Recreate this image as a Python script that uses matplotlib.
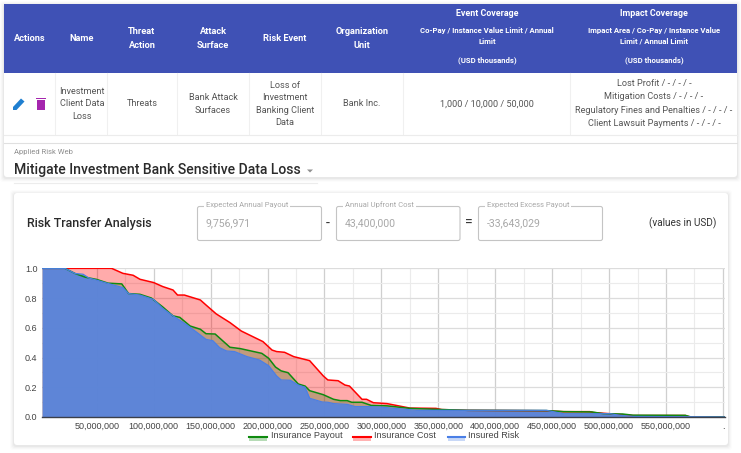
#!/usr/bin/env python3
"""Risk transfer analysis screen: coverage table, summary fields and area chart."""
import matplotlib
matplotlib.use("Agg")
import matplotlib.pyplot as plt
from matplotlib.patches import FancyBboxPatch, Polygon, Rectangle
from matplotlib.lines import Line2D
from matplotlib.ticker import FuncFormatter, MultipleLocator

# curves: x in USD millions, y = probability of exceeding x
risk_x = [2, 22, 31, 38, 43, 50, 59, 73, 78, 88, 100, 108, 117, 129, 139, 146, 152, 158, 164,
          171, 182, 193, 201, 208, 212, 220, 227, 233, 237, 248, 253, 258, 270, 277, 287, 299,
          309, 331, 445, 460, 501, 510, 521, 602]
risk_y = [1.0, 1.0, 0.965, 0.96, 0.935, 0.92, 0.90, 0.87, 0.83, 0.82, 0.79, 0.73, 0.68, 0.62,
          0.563, 0.522, 0.513, 0.466, 0.444, 0.44, 0.406, 0.383, 0.345, 0.276, 0.249, 0.247,
          0.215, 0.20, 0.126, 0.101, 0.099, 0.09, 0.085, 0.07, 0.07, 0.067, 0.06, 0.045, 0.045,
          0.022, 0.022, 0.011, 0.004, 0.0]
payout_x = [2, 22, 31, 40, 50, 60, 72, 78, 88, 98, 108, 117, 123, 132, 141, 146, 154, 167, 176,
            195, 201, 207, 212, 218, 227, 233, 237, 249, 258, 264, 270, 274, 283, 291, 305, 325,
            353, 376, 445, 460, 485, 495, 512, 521, 567, 572, 602]
payout_y = [1.0, 1.0, 0.965, 0.94, 0.925, 0.90, 0.895, 0.83, 0.825, 0.80, 0.74, 0.68, 0.67,
            0.612, 0.59, 0.56, 0.558, 0.469, 0.46, 0.428, 0.395, 0.336, 0.31, 0.298, 0.222,
            0.208, 0.177, 0.15, 0.119, 0.11, 0.11, 0.099, 0.099, 0.078, 0.075, 0.058, 0.05,
            0.045, 0.043, 0.036, 0.034, 0.022, 0.02, 0.012, 0.011, 0.0, 0.0]
cost_x = [2, 63, 73, 82, 88, 100, 108, 117, 121, 127, 141, 146, 155, 167, 177, 196, 204, 208,
          215, 223, 237, 249, 253, 262, 268, 272, 283, 287, 293, 305, 325, 348, 353, 376, 445,
          460, 483, 486, 501, 521, 567, 571, 602]
cost_y = [1.0, 1.0, 0.966, 0.953, 0.926, 0.904, 0.877, 0.854, 0.82, 0.82, 0.787, 0.753, 0.693,
          0.635, 0.578, 0.507, 0.45, 0.44, 0.435, 0.406, 0.379, 0.276, 0.249, 0.244, 0.215,
          0.208, 0.119, 0.119, 0.096, 0.09, 0.06, 0.058, 0.05, 0.045, 0.042, 0.036, 0.036,
          0.03, 0.022, 0.01, 0.01, 0.0, 0.0]

series_names = ["Insurance Payout", "Insurance Cost", "Insured Risk"]
x_tick_values = [50, 100, 150, 200, 250, 300, 350, 400, 450, 500, 550, 600]
y_tick_values = [0.0, 0.2, 0.4, 0.6, 0.8, 1.0]

header_labels = ["Actions", "Name", "Threat\nAction", "Attack\nSurface", "Risk Event",
                 "Organization\nUnit"]
row_labels = ["Investment\nClient Data\nLoss", "Threats", "Bank Attack\nSurfaces",
              "Loss of\nInvestment\nBanking Client\nData", "Bank Inc.",
              "1,000 / 10,000 / 50,000"]
impact_lines = ["Lost Profit / - / - / -", "Mitigation Costs / - / - / -",
                "Regulatory Fines and Penalties / - / - / -", "Client Lawsuit Payments / - / - / -"]
field_labels = ["Expected Annual Payout", "Annual Upfront Cost", "Expected Excess Payout"]
field_values = ["9,756,971", "43,400,000", "-33,643,029"]

GREEN, RED, BLUE = "#0f8a0f", "#ff0000", "#5a85dc"
CHART_FONT = "Liberation Sans"
W, H = 741, 453


def fs(px):
    return px * 0.72


plt.rcParams["font.family"] = ["Roboto", "DejaVu Sans"]
fig = plt.figure(figsize=(W / 100, H / 100), dpi=100, facecolor="white")

page = fig.add_axes([0, 0, 1, 1])
page.set_xlim(0, W)
page.set_ylim(H, 0)
page.axis("off")


def card(x0, y0, x1, y1):
    # soft shadow made of stacked rounded boxes
    for grow, a in [(4, 0.012), (3, 0.018), (2, 0.025), (1, 0.035)]:
        page.add_patch(FancyBboxPatch((x0 - grow, y0 - grow + 1), x1 - x0 + 2 * grow,
                                      y1 - y0 + 2 * grow, boxstyle="round,pad=0,rounding_size=3",
                                      fc="black", ec="none", alpha=a))
    page.add_patch(FancyBboxPatch((x0, y0), x1 - x0, y1 - y0,
                                  boxstyle="round,pad=0,rounding_size=3", fc="white", ec="none"))


# top card with the table
card(4, 4, 737, 177)
page.add_patch(Rectangle((4, 4), 733, 69, fc="#3f51b5", ec="none"))
header_x = [30, 82, 142, 213, 285, 362]
for x, label in zip(header_x, header_labels):
    page.text(x, 38.5, label, color="white", fontsize=fs(9.25), fontweight="bold", ha="center",
              va="center", linespacing=1.85)
for x, top, sub in [(487, "Event Coverage", "Co-Pay / Instance Value Limit / Annual\nLimit"),
                    (654, "Impact Coverage", "Impact Area / Co-Pay / Instance Value\nLimit / Annual Limit")]:
    page.text(x, 14, top, color="white", fontsize=fs(8.9), fontweight="bold", ha="center", va="center")
    page.text(x, 36, sub, color="white", fontsize=fs(7.8), fontweight="bold", ha="center",
              va="center", linespacing=1.6)
    page.text(x, 60, "(USD thousands)", color="white", fontsize=fs(7.8), fontweight="bold",
              ha="center", va="center")

for x in [55, 107, 177, 249, 321, 403, 570]:
    page.plot([x, x], [73, 134], color="#f0f0f0", lw=0.8)
page.plot([4, 737], [134.5, 134.5], color="#ececec", lw=0.8)
page.plot([4, 737], [142.5, 142.5], color="#e0e0e0", lw=0.8)

row_x = [82, 142, 213, 285, 362, 487]
for x, label in zip(row_x, row_labels):
    page.text(x, 104, label, color="#555555", fontsize=fs(9.1), ha="center", va="center",
              linespacing=1.46)
for i, line in enumerate(impact_lines):
    page.text(654, 83.5 + i * 13.3, line, color="#555555", fontsize=fs(9.1), ha="center", va="center")

# edit and delete icons
page.add_patch(Polygon([(13, 110), (13, 107), (21, 98.5), (24.5, 101.5), (16.5, 110)],
                       fc="#1f7fd0", ec="none"))
page.add_patch(Rectangle((36.5, 100), 8, 9.5, fc="#a526ae", ec="none"))
page.add_patch(Rectangle((35.5, 98), 10, 1.4, fc="#a526ae", ec="none"))

page.text(14, 152, "Applied Risk Web", color="#8f8f8f", fontsize=fs(7.6), ha="left", va="center")
page.text(14, 170, "Mitigate Investment Bank Sensitive Data Loss", color="#2b2b2b",
          fontsize=fs(14.05), fontweight="medium", ha="left", va="center")
page.add_patch(Polygon([(307, 169.5), (313, 169.5), (310, 172.5)], fc="#909090", ec="none"))
page.plot([14, 317], [183, 183], color="#ececec", lw=0.8)

# analysis card
card(14, 193, 728, 445)
page.text(27, 223, "Risk Transfer Analysis", color="#2b2b2b", fontsize=fs(12.5), fontweight="medium",
          ha="left", va="center")
page.text(716, 223, "(values in USD)", color="#333333", fontsize=fs(10), ha="right", va="center")
for (x0, x1), label, value in zip([(197.5, 321.5), (336.5, 460), (478.5, 602.5)], field_labels, field_values):
    page.add_patch(FancyBboxPatch((x0, 206.5), x1 - x0, 34, boxstyle="round,pad=0,rounding_size=2",
                                  fc="white", ec="#c4c4c4", lw=0.8))
    page.text(x0 + 8.5, 205, label, color="#a8a8a8", fontsize=fs(7.6), ha="left", va="center",
              bbox=dict(fc="white", ec="none", pad=1.2))
    page.text(x0 + 8.5, 223.5, value, color="#a8a8a8", fontsize=fs(10.5), ha="left", va="center")
page.text(328, 224, "-", color="#333333", fontsize=fs(14), ha="center", va="center")
page.text(469, 223, "=", color="#333333", fontsize=fs(14), ha="center", va="center")

# chart
ax = fig.add_axes([42.3 / W, 1 - 417 / H, (725 - 42.3) / W, (417 - 268.3) / H])
ax.patch.set_alpha(0)
ax.set_xlim(2.2, 601.8)
ax.set_ylim(0, 1)
ax.fill_between(cost_x, cost_y, color=RED, alpha=0.33, lw=0)
ax.fill_between(payout_x, payout_y, color="#377814", alpha=0.3, lw=0)
ax.fill_between(risk_x, risk_y, color=BLUE, alpha=0.96, lw=0)
ax.plot(cost_x, cost_y, color=RED, lw=1.1, solid_joinstyle="round")
ax.plot(payout_x, payout_y, color=GREEN, lw=1.1, solid_joinstyle="round")
ax.plot(risk_x, risk_y, color="#4a7fe6", lw=0.9, solid_joinstyle="round")

ax.set_xticks(x_tick_values)
ax.set_xticklabels([f"{v * 1000000:,}" if v < 600 else "." for v in x_tick_values])
ax.set_yticks(y_tick_values)
ax.yaxis.set_major_formatter(FuncFormatter(lambda v, _: f"{v:.1f}"))
ax.xaxis.set_minor_locator(MultipleLocator(25))
ax.yaxis.set_minor_locator(MultipleLocator(0.1))
ax.grid(which="major", axis="x", color="#cfcfcf", lw=0.9)
ax.grid(which="major", axis="y", color="#dcdcdc", lw=0.9)
ax.grid(which="minor", color="#ebebeb", lw=0.8)
ax.set_axisbelow(True)
ax.tick_params(which="both", length=0)
ax.tick_params(axis="both", labelsize=fs(9), labelcolor="#444444", pad=3.5)
for tick in ax.get_xticklabels() + ax.get_yticklabels():
    tick.set_family(CHART_FONT)
for side in ["top", "left", "right"]:
    ax.spines[side].set_visible(False)
ax.spines["bottom"].set_color("#3b3f4a")
ax.spines["bottom"].set_linewidth(1.0)

# legend drawn by hand so the swatches sit where they do on the page
for (x0, x1, tx), name, color in zip([(249, 267, 271), (353, 371, 374), (448, 465, 468)],
                                     series_names, [GREEN, RED, "#4a7fe6"]):
    page.add_patch(Rectangle((x0, 436), x1 - x0, 4.5, fc=color, ec="none", alpha=0.3))
    page.add_line(Line2D([x0, x1], [436.7, 436.7], color=color, lw=1.5))
    page.text(tx, 435.5, name, color="#444444", fontsize=fs(9.2), ha="left", va="center",
              family=CHART_FONT)

plt.savefig("out.png", dpi=100)
